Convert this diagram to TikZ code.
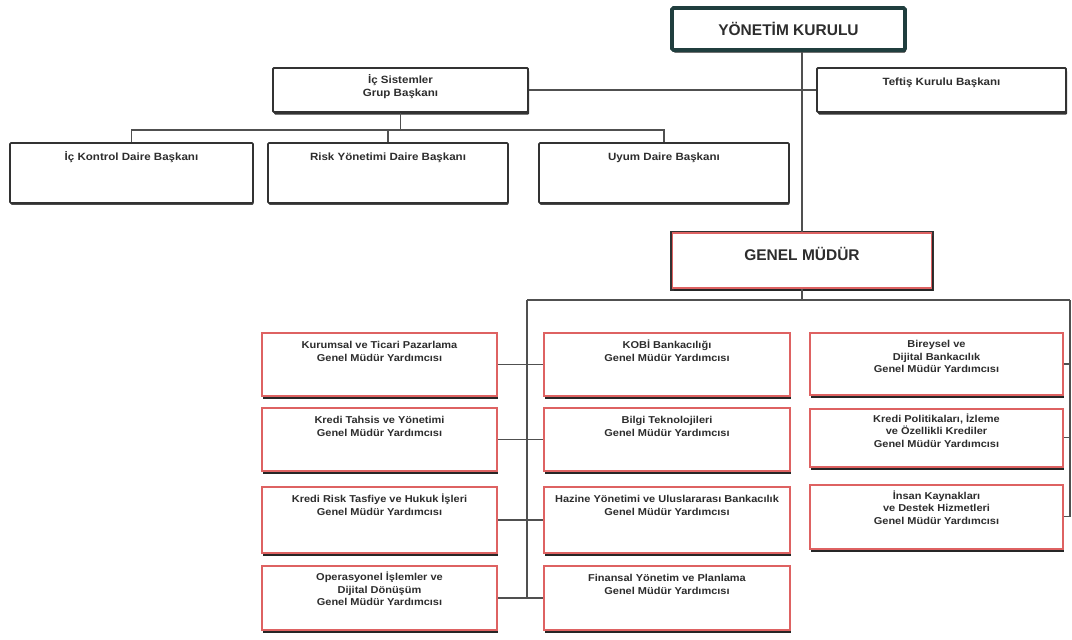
\documentclass[tikz,border=0pt]{standalone}
\usepackage{fontspec}
\setmainfont{Liberation Sans}
\newfontfamily\widefont[FakeStretch=1.1]{Liberation Sans}
\usetikzlibrary{shadows}
\definecolor{redline}{RGB}{222,98,98}
\definecolor{darkline}{RGB}{50,50,50}
\definecolor{ykline}{RGB}{32,62,62}
\definecolor{connc}{RGB}{80,80,80}
\definecolor{txt}{RGB}{45,45,45}
\begin{document}
\begin{tikzpicture}[x=1pt,y=-1pt,
  topbox/.style={draw=darkline, line width=1.8pt, fill=white, rounded corners=1pt, inner sep=0pt,
    drop shadow={shadow xshift=1pt, shadow yshift=-2.5pt, fill=black!80, opacity=1}},
  plainbox/.style={draw=darkline, line width=1.6pt, fill=white, rounded corners=1pt, inner sep=0pt,
    drop shadow={shadow xshift=0.6pt, shadow yshift=-1.8pt, fill=black!70, opacity=1}},
  ykbox/.style={draw=ykline, line width=3.6pt, fill=white, rounded corners=1.5pt, inner sep=0pt,
    drop shadow={shadow xshift=1pt, shadow yshift=-2.5pt, fill=black!85, opacity=1}},
  gmbox/.style={draw=redline, line width=1.8pt, fill=white, inner sep=0pt,
    preaction={draw=darkline, line width=5pt},
    drop shadow={shadow xshift=1pt, shadow yshift=-3pt, fill=black!85, opacity=1}},
  gmybox/.style={draw=redline, line width=2pt, fill=white, inner sep=0pt,
    drop shadow={shadow xshift=0.8pt, shadow yshift=-3pt, fill=black!85, opacity=1}},
  btext/.style={anchor=north, align=center, inner sep=0pt, text=txt,
    font=\widefont\bfseries\fontsize{10}{12.5}\selectfont},
  ttext/.style={anchor=north, align=center, inner sep=0pt, text=txt,
    font=\widefont\bfseries\fontsize{10.5}{13}\selectfont},
  htext/.style={align=center, inner sep=0pt, text=txt,
    font=\bfseries\fontsize{15.5}{18}\selectfont},
  conn/.style={draw=connc, line width=1.2pt}
]
\useasboundingbox[fill=white] (0,0) rectangle (1072,640);

% ---------- top level ----------
\node[ykbox, minimum width=233pt, minimum height=42pt] (yk) at (788.5,29) {};
\node[htext] (ykt) at (yk.center) {YÖNETİM KURULU};

\node[topbox, minimum width=255pt, minimum height=44pt] (ic) at (400.5,90) {};
\node[ttext] (ict) at ([yshift=-7pt]ic.north) {\strut İç Sistemler\\Grup Başkanı};

\node[topbox, minimum width=249pt, minimum height=44pt] (tef) at (941.5,90) {};
\node[ttext] (teft) at ([yshift=-9pt]tef.north) {\strut Teftiş Kurulu Başkanı};

\node[plainbox, minimum width=243pt, minimum height=60pt] (kon) at (131.5,173) {};
\node[ttext] (kont) at ([yshift=-9pt]kon.north) {\strut İç Kontrol Daire Başkanı};

\node[plainbox, minimum width=240pt, minimum height=60pt] (risk) at (388,173) {};
\node[ttext] (riskt) at ([yshift=-9pt]risk.north) {\strut Risk Yönetimi Daire Başkanı};

\node[plainbox, minimum width=250pt, minimum height=60pt] (uyum) at (664,173) {};
\node[ttext] (uyumt) at ([yshift=-9pt]uyum.north) {\strut Uyum Daire Başkanı};

\node[gmbox, minimum width=259pt, minimum height=55pt] (gm) at (802,260.5) {};
\node[htext] (gmt) at ([yshift=7pt]gm.center) {GENEL MÜDÜR};

% ---------- left column ----------
\node[gmybox, minimum width=235pt, minimum height=63pt] (l1) at (379.5,364.5) {};
\node[btext] (l1t) at ([yshift=-8pt]l1.north) {\strut Kurumsal ve Ticari Pazarlama\\Genel Müdür Yardımcısı};
\node[gmybox, minimum width=235pt, minimum height=63pt] (l2) at (379.5,439.5) {};
\node[btext] (l2t) at ([yshift=-8pt]l2.north) {\strut Kredi Tahsis ve Yönetimi\\Genel Müdür Yardımcısı};
\node[gmybox, minimum width=235pt, minimum height=66pt] (l3) at (379.5,520) {};
\node[btext] (l3t) at ([yshift=-8pt]l3.north) {\strut Kredi Risk Tasfiye ve Hukuk İşleri\\Genel Müdür Yardımcısı};
\node[gmybox, minimum width=235pt, minimum height=64pt] (l4) at (379.5,598) {};
\node[btext] (l4t) at ([yshift=-7pt]l4.north) {\strut Operasyonel İşlemler ve\\Dijital Dönüşüm\\Genel Müdür Yardımcısı};

% ---------- middle column ----------
\node[gmybox, minimum width=246pt, minimum height=63pt] (m1) at (667,364.5) {};
\node[btext] (m1t) at ([yshift=-8pt]m1.north) {\strut KOBİ Bankacılığı\\Genel Müdür Yardımcısı};
\node[gmybox, minimum width=246pt, minimum height=63pt] (m2) at (667,439.5) {};
\node[btext] (m2t) at ([yshift=-8pt]m2.north) {\strut Bilgi Teknolojileri\\Genel Müdür Yardımcısı};
\node[gmybox, minimum width=246pt, minimum height=66pt] (m3) at (667,520) {};
\node[btext] (m3t) at ([yshift=-8pt]m3.north) {\strut Hazine Yönetimi ve Uluslararası Bankacılık\\Genel Müdür Yardımcısı};
\node[gmybox, minimum width=246pt, minimum height=64pt] (m4) at (667,598) {};
\node[btext] (m4t) at ([yshift=-8pt]m4.north) {\strut Finansal Yönetim ve Planlama\\Genel Müdür Yardımcısı};

% ---------- right column ----------
\node[gmybox, minimum width=253pt, minimum height=62pt] (r1) at (936.5,364) {};
\node[btext] (r1t) at ([yshift=-7pt]r1.north) {\strut Bireysel ve\\Dijital Bankacılık\\Genel Müdür Yardımcısı};
\node[gmybox, minimum width=253pt, minimum height=58pt] (r2) at (936.5,437.5) {};
\node[btext] (r2t) at ([yshift=-6pt]r2.north) {\strut Kredi Politikaları, İzleme\\ve Özellikli Krediler\\Genel Müdür Yardımcısı};
\node[gmybox, minimum width=253pt, minimum height=64pt] (r3) at (936.5,516.5) {};
\node[btext] (r3t) at ([yshift=-7pt]r3.north) {\strut İnsan Kaynakları\\ve Destek Hizmetleri\\Genel Müdür Yardımcısı};

% ---------- connectors ----------
\coordinate (ibus) at (0,130);
\coordinate (vl) at (527,300);
\coordinate (vr) at (1070,300);

\draw[conn] (ic.east) -- (tef.west);
\draw[conn] (yk.south -| gm.north) -- (gm.north);
\draw[conn] (ic.south) -- (ic.south |- ibus);
\draw[conn] (kon.north) -- (kon.north |- ibus) -- (uyum.north |- ibus) -- (uyum.north);
\draw[conn] (risk.north) -- (risk.north |- ibus);

\draw[conn] (gm.south) -- (gm.south |- vl);
\draw[conn] (vl) -- (vr);
\draw[conn] (vl) -- (vl |- l4.east);
\draw[conn] (vr) -- (vr |- r3.east);
\draw[conn] (l1.east) -- (m1.west);
\draw[conn] (l2.east) -- (m2.west);
\draw[conn] (l3.east) -- (m3.west);
\draw[conn] (l4.east) -- (m4.west);
\draw[conn] (r1.east) -- (r1.east -| vr);
\draw[conn] (r2.east) -- (r2.east -| vr);
\draw[conn] (r3.east) -- (r3.east -| vr);
\end{tikzpicture}
\end{document}
